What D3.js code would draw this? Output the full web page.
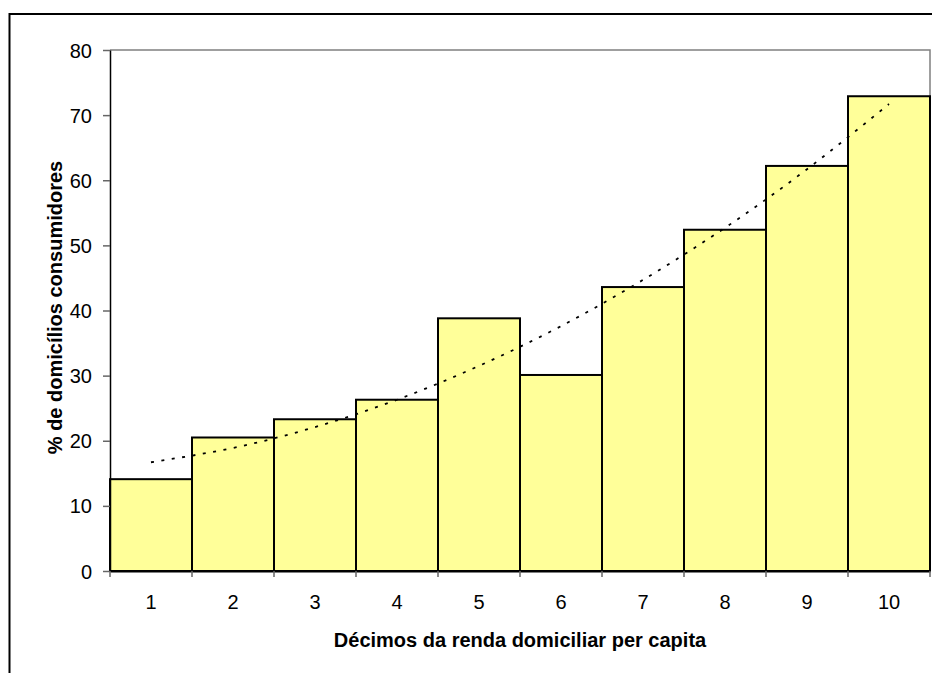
<!DOCTYPE html>
<html>
<head>
<meta charset="utf-8">
<script src="https://cdn.jsdelivr.net/npm/d3@7"></script>
<style>
  html, body { margin: 0; padding: 0; background: #fff; }
  svg { display: block; }
  text { font-family: Arial, "Liberation Sans", sans-serif; fill: #000; }
</style>
</head>
<body>
<script>
// Décimos da renda domiciliar per capita (1 = mais pobre, 10 = mais rico)
const deciles = ["1", "2", "3", "4", "5", "6", "7", "8", "9", "10"];
// % de domicílios consumidores em cada décimo
const shares = [14.1, 20.5, 23.3, 26.3, 38.8, 30.1, 43.6, 52.4, 62.2, 72.9];
// Linha de tendência (polinomial) no centro de cada décimo
const trend = [16.7, 18.9, 22.1, 26.3, 31.5, 37.6, 44.7, 52.7, 61.7, 71.7];
// Marcas do eixo vertical
const yTicks = [0, 10, 20, 30, 40, 50, 60, 70, 80];

const W = 932, H = 673;
const plot = { left: 110, top: 50, right: 930, bottom: 571 };

const svg = d3.select("body").append("svg")
  .attr("width", W).attr("height", H);

svg.append("rect").attr("width", W).attr("height", H).attr("fill", "#fff");

// Moldura externa do gráfico
svg.append("rect")
  .attr("x", 9.5).attr("y", 14)
  .attr("width", W + 20).attr("height", H + 20)
  .attr("fill", "none").attr("stroke", "#000").attr("stroke-width", 2);

const x = d3.scaleBand().domain(deciles)
  .range([plot.left, plot.right]).paddingInner(0).paddingOuter(0);
const y = d3.scaleLinear().domain([0, 80]).range([plot.bottom, plot.top]);

// Borda da área de plotagem (topo e lateral direita em cinza)
svg.append("path")
  .attr("d", `M${plot.left},${plot.top}H${plot.right}V${plot.bottom}`)
  .attr("fill", "none").attr("stroke", "#808080").attr("stroke-width", 1.5);

// Barras
svg.append("g").selectAll("rect").data(deciles).join("rect")
  .attr("x", d => x(d))
  .attr("y", (d, i) => y(shares[i]))
  .attr("width", x.bandwidth())
  .attr("height", (d, i) => y(0) - y(shares[i]))
  .attr("fill", "#FFFF99")
  .attr("stroke", "#000").attr("stroke-width", 2);

// Eixo Y
const yAxis = svg.append("g")
  .attr("transform", `translate(${plot.left},0)`)
  .call(d3.axisLeft(y).tickValues(yTicks).tickSize(7).tickPadding(11).tickSizeOuter(0));
yAxis.select(".domain").attr("stroke", "#000").attr("stroke-width", 1.5);
yAxis.selectAll(".tick line").attr("stroke", "#666").attr("stroke-width", 1.5);
yAxis.selectAll(".tick text")
  .attr("font-size", "20px").attr("font-family", "Arial, 'Liberation Sans', sans-serif")
  .attr("dy", "0.35em");

// Eixo X: marcas nas divisões entre as barras, rótulos no centro
const xAxis = svg.append("g")
  .attr("transform", `translate(0,${plot.bottom})`)
  .call(d3.axisBottom(x).tickSize(0).tickPadding(24));
xAxis.select(".domain").attr("stroke", "#000").attr("stroke-width", 2);
xAxis.selectAll(".tick text")
  .attr("font-size", "20px").attr("font-family", "Arial, 'Liberation Sans', sans-serif");

const bounds = deciles.map(d => x(d)).concat([plot.right]);
svg.append("g").selectAll("line").data(bounds).join("line")
  .attr("x1", d => d).attr("x2", d => d)
  .attr("y1", plot.bottom).attr("y2", plot.bottom + 6)
  .attr("stroke", "#666").attr("stroke-width", 1.5);

// Linha de tendência pontilhada
const line = d3.line()
  .x((d, i) => x(deciles[i]) + x.bandwidth() / 2)
  .y(d => y(d))
  .curve(d3.curveNatural);
svg.append("path")
  .datum(trend)
  .attr("d", line)
  .attr("fill", "none")
  .attr("stroke", "#000")
  .attr("stroke-width", 1.8)
  .attr("stroke-dasharray", "3,7.5");

// Títulos dos eixos
svg.append("text")
  .attr("x", (plot.left + plot.right) / 2).attr("y", 647)
  .attr("text-anchor", "middle")
  .attr("font-size", "20px").attr("font-weight", "bold")
  .text("Décimos da renda domiciliar per capita");

svg.append("text")
  .attr("transform", `translate(62,${(plot.top + plot.bottom) / 2 - 3}) rotate(-90)`)
  .attr("text-anchor", "middle")
  .attr("font-size", "20px").attr("font-weight", "bold")
  .text("% de domicílios consumidores");
</script>
</body>
</html>
